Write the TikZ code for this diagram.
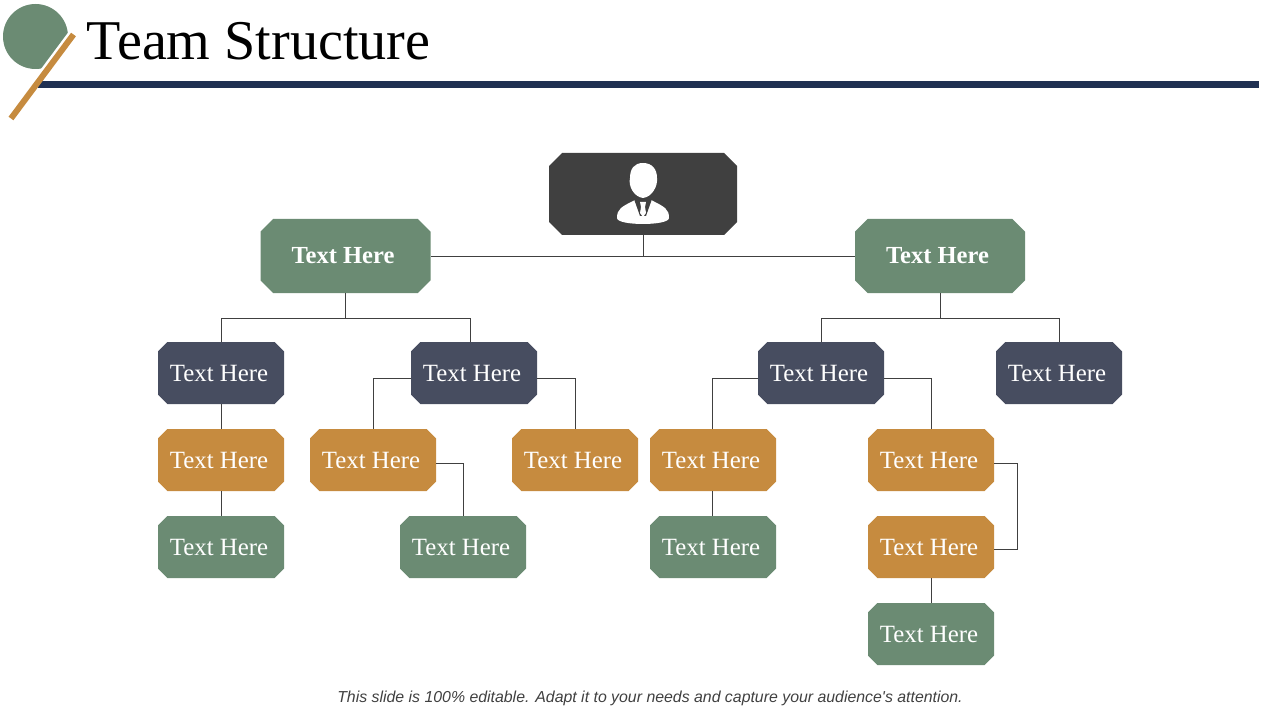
\documentclass[tikz,border=0pt]{standalone}
\usepackage{fontspec}
\setmainfont{Liberation Serif}
\newfontfamily\notefont{Liberation Sans}

\definecolor{sagegreen}{HTML}{6B8B73}
\definecolor{slateblue}{HTML}{474D60}
\definecolor{ochre}{HTML}{C68B3F}
\definecolor{charcoal}{HTML}{404040}
\definecolor{navyrule}{HTML}{1F3052}

\tikzset{
    octagon/.style 2 args={rectangle,fill=white,inner sep=0pt,outer sep=0pt,path picture={
        \fill[#1] ([xshift=#2]path picture bounding box.south west)
            -- ([xshift=-#2]path picture bounding box.south east)
            -- ([yshift=#2]path picture bounding box.south east)
            -- ([yshift=-#2]path picture bounding box.north east)
            -- ([xshift=-#2]path picture bounding box.north east)
            -- ([xshift=#2]path picture bounding box.north west)
            -- ([yshift=-#2]path picture bounding box.north west)
            -- ([yshift=#2]path picture bounding box.south west) -- cycle;}},
    box/.style={octagon={#1}{7pt},minimum width=94.5pt,minimum height=46.5pt,text=white,
        font=\fontsize{18.6}{20}\selectfont,execute at end node={\hspace*{3pt}}},
    leadbox/.style={octagon={sagegreen}{9.4pt},minimum width=127.5pt,minimum height=55.5pt,text=white,
        font=\fontsize{18.4}{20}\selectfont\bfseries,execute at end node={\hspace*{3.75pt}}},
    link/.style={draw=charcoal,line width=0.75pt},
}

\begin{document}
\begin{tikzpicture}[x=0.75pt,y=-0.75pt]
    \useasboundingbox (0,0) rectangle (1280,720);

    % Draw the header
    \fill[sagegreen] (35.5,36.5) circle[radius=32.5];
    \draw[white,line width=8.25pt] (73.5,34.5) -- (11,118.5);
    \draw[navyrule,line width=5.25pt] (38,84.5) -- (1259,84.5);
    \draw[ochre,line width=4.5pt] (73.5,34.5) -- (11,118.5);
    \node[anchor=west,font=\fontsize{42.1}{44}\selectfont] (title) at (82,41) {Team Structure};

    % Draw the top box and the person
    \node[octagon={charcoal}{9.75pt},minimum width=141pt,minimum height=61.5pt] (head) at (643,194) {};
    \fill[white] (617,218) .. controls (617,209) and (621,207) .. (635,200)
        -- (651,200) .. controls (665,207) and (669,209) .. (669,218)
        .. controls (669,226) and (617,226) .. (617,218) -- cycle;
    \fill[charcoal] (634,199) -- (652,199) -- (646,216) -- (640,216) -- cycle;
    \fill[white] (643,163) .. controls (652,163) and (657,169) .. (657,178)
        .. controls (658,186) and (652,197) .. (643,198)
        .. controls (634,197) and (628,186) .. (630,178)
        .. controls (630,169) and (634,163) .. (643,163) -- cycle;
    \fill[white] (640,202) -- (646,202) -- (645,207) -- (646,213) -- (643,217) -- (640,213) -- (641,207) -- cycle;

    % Draw the second level
    \node[leadbox] (leadleft) at (345.5,256) {Text Here};
    \node[leadbox] (leadright) at (940,256) {Text Here};

    % Draw the third level
    \node[box=slateblue] (teama) at (221,373) {Text Here};
    \node[box=slateblue] (teamb) at (474,373) {Text Here};
    \node[box=slateblue] (teamc) at (821,373) {Text Here};
    \node[box=slateblue] (teamd) at (1059,373) {Text Here};

    % Draw the fourth level
    \node[box=ochre] (membera) at (221,460) {Text Here};
    \node[box=ochre] (memberb) at (373,460) {Text Here};
    \node[box=ochre] (memberc) at (575,460) {Text Here};
    \node[box=ochre] (memberd) at (713,460) {Text Here};
    \node[box=ochre] (membere) at (931,460) {Text Here};
    \node[box=ochre] (memberf) at (931,547) {Text Here};

    % Draw the green boxes at the bottom
    \node[box=sagegreen] (helpera) at (221,547) {Text Here};
    \node[box=sagegreen] (helperb) at (463,547) {Text Here};
    \node[box=sagegreen] (helperc) at (713,547) {Text Here};
    \node[box=sagegreen] (helperd) at (931,634) {Text Here};

    % Points where the lines branch
    \coordinate (busleft) at (345.5,318);
    \coordinate (busright) at (940,318);
    \coordinate (elbow) at (1017,463);

    % Draw the connectors
    \draw[link] (head.south) |- (leadleft.east);
    \draw[link] (head.south) |- (leadright.west);
    \draw[link] (leadleft.south) -- (busleft) -| (teama.north);
    \draw[link] (busleft) -| ([xshift=-3pt]teamb.north);
    \draw[link] (leadright.south) -- (busright) -| (teamc.north);
    \draw[link] (busright) -| (teamd.north);
    \draw[link] (teama.south) -- (membera.north);
    \draw[link] (membera.south) -- (helpera.north);
    \draw[link] ([yshift=-3.75pt]teamb.west) -| (memberb.north);
    \draw[link] ([yshift=-3.75pt]teamb.east) -| (memberc.north);
    \draw[link] ([yshift=-2.25pt]memberb.east) -| (helperb.north);
    \draw[link] ([yshift=-3.75pt]teamc.west) -| ([xshift=-0.75pt]memberd.north);
    \draw[link] ([yshift=-3.75pt]teamc.east) -| (membere.north);
    \draw[link] ([xshift=-0.75pt]memberd.south) -- ([xshift=-0.75pt]helperc.north);
    \draw[link] ([yshift=-2.25pt]membere.east) -- (elbow) |- ([yshift=-1.5pt]memberf.east);
    \draw[link] (memberf.south) -- (helperd.north);

    % Draw the note
    \node[font=\notefont\itshape\fontsize{11.9}{14}\selectfont,text=charcoal] (note) at (650,698.5)
        {This slide is 100\% editable. Adapt it to your needs and capture your audience's attention.};
\end{tikzpicture}
\end{document}
